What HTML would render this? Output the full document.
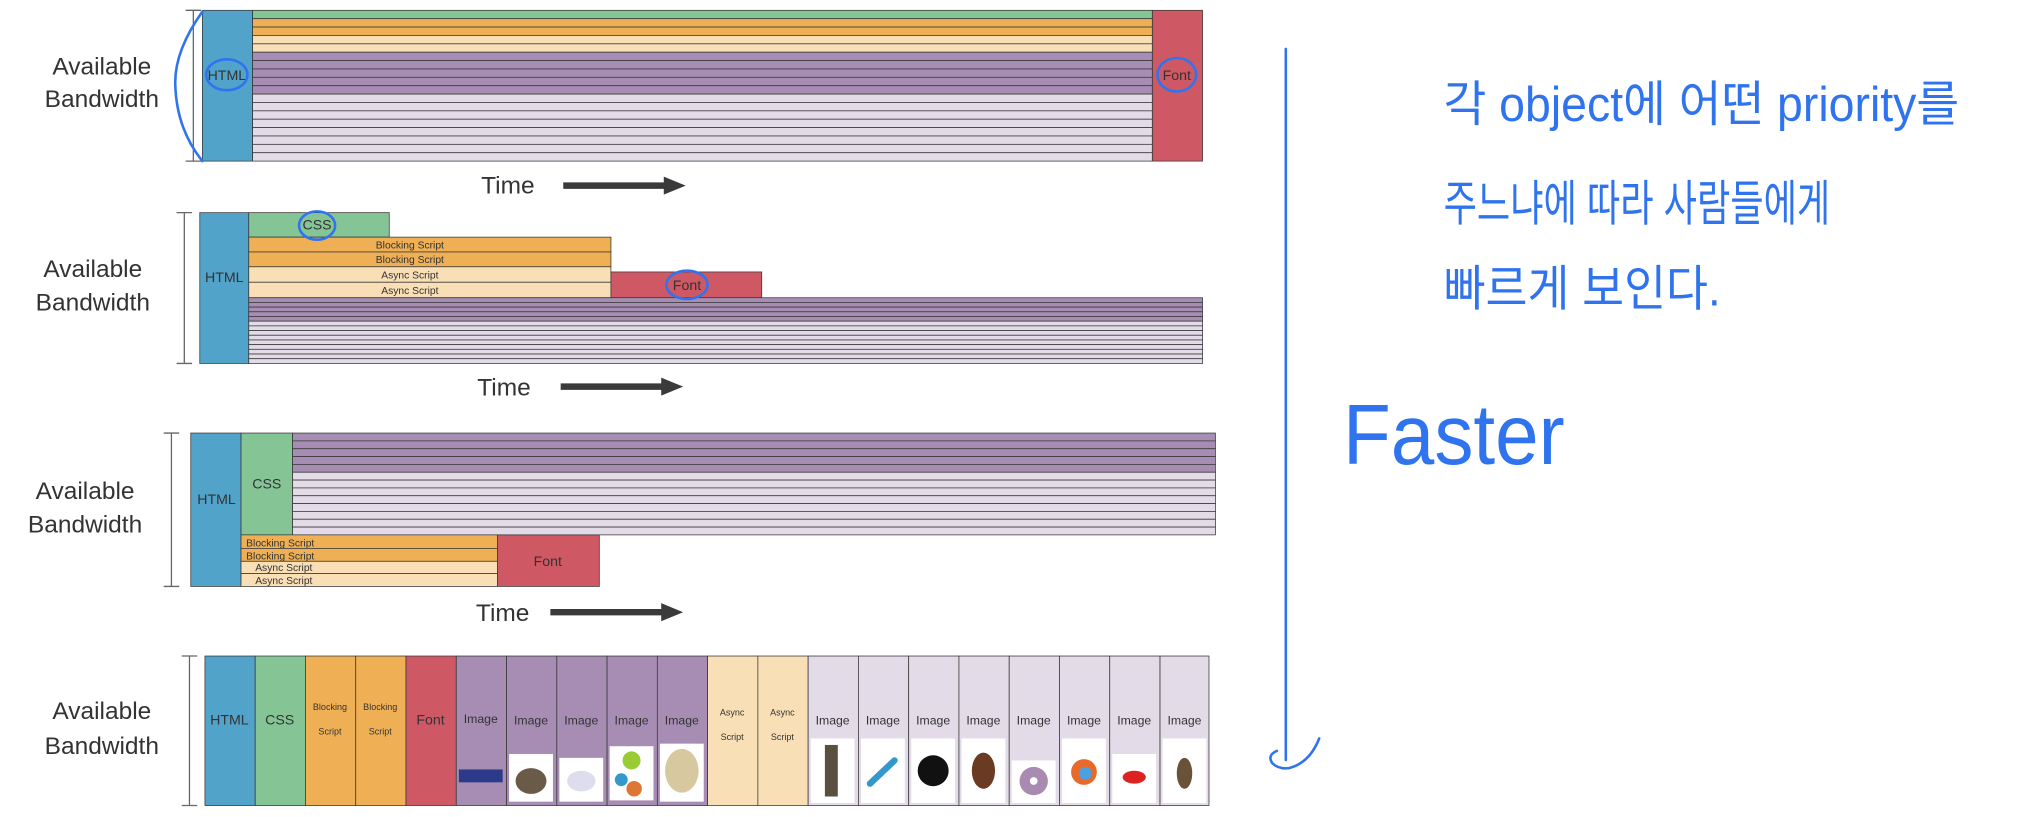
<!DOCTYPE html>
<html><head><meta charset="utf-8"><style>
html,body{margin:0;padding:0;background:#fff;width:2021px;height:817px;overflow:hidden}
svg{display:block}
text{font-family:"Liberation Sans","DejaVu Sans",sans-serif}
.hw{font-family:"Liberation Sans","Noto Sans CJK KR","NanumGothic",sans-serif;fill:#2f74ee}
</style></head><body>
<svg width="2021" height="817" viewBox="0 0 1568 633.9" preserveAspectRatio="none" xmlns="http://www.w3.org/2000/svg">
<defs>
<g id="d1rows"></g>
</defs>
<g stroke="#3a3a3a" stroke-width="0.6">
<!-- D1 -->
<rect x="157" y="8" width="39" height="117" fill="#52a3c9"/>
<rect x="894" y="8" width="39" height="117" fill="#cf5865"/>
<rect x="196" y="8" width="698" height="6.5" fill="#85c495"/>
<rect x="196" y="14.5" width="698" height="6.5" fill="#efb055"/>
<rect x="196" y="21" width="698" height="6.5" fill="#efb055"/>
<rect x="196" y="27.5" width="698" height="6.5" fill="#f9dfb5"/>
<rect x="196" y="34" width="698" height="6.5" fill="#f9dfb5"/>
<rect x="196" y="40.5" width="698" height="6.5" fill="#a78db4"/>
<rect x="196" y="47" width="698" height="6.5" fill="#a78db4"/>
<rect x="196" y="53.5" width="698" height="6.5" fill="#a78db4"/>
<rect x="196" y="60" width="698" height="6.5" fill="#a78db4"/>
<rect x="196" y="66.5" width="698" height="6.5" fill="#a78db4"/>
<rect x="196" y="73" width="698" height="6.5" fill="#e3dbe8"/>
<rect x="196" y="79.5" width="698" height="6.5" fill="#e3dbe8"/>
<rect x="196" y="86" width="698" height="6.5" fill="#e3dbe8"/>
<rect x="196" y="92.5" width="698" height="6.5" fill="#e3dbe8"/>
<rect x="196" y="99" width="698" height="6.5" fill="#e3dbe8"/>
<rect x="196" y="105.5" width="698" height="6.5" fill="#e3dbe8"/>
<rect x="196" y="112" width="698" height="6.5" fill="#e3dbe8"/>
<rect x="196" y="118.5" width="698" height="6.5" fill="#e3dbe8"/>
<!-- D2 -->
<rect x="155" y="165" width="38" height="117" fill="#52a3c9"/>
<rect x="193" y="165" width="109" height="19" fill="#85c495"/>
<rect x="193" y="184" width="281" height="11.5" fill="#efb055"/>
<rect x="193" y="195.5" width="281" height="11.5" fill="#efb055"/>
<rect x="193" y="207" width="281" height="12" fill="#f9dfb5"/>
<rect x="193" y="219" width="281" height="12" fill="#f9dfb5"/>
<rect x="474" y="211" width="117" height="20" fill="#cf5865"/>
<rect x="193" y="231" width="740" height="3.64" fill="#a78db4"/>
<rect x="193" y="234.64" width="740" height="3.64" fill="#a78db4"/>
<rect x="193" y="238.28" width="740" height="3.64" fill="#a78db4"/>
<rect x="193" y="241.92" width="740" height="3.64" fill="#a78db4"/>
<rect x="193" y="245.56" width="740" height="3.64" fill="#a78db4"/>
<rect x="193" y="249.2" width="740" height="3.64" fill="#e3dbe8"/>
<rect x="193" y="252.84" width="740" height="3.64" fill="#e3dbe8"/>
<rect x="193" y="256.48" width="740" height="3.64" fill="#e3dbe8"/>
<rect x="193" y="260.12" width="740" height="3.64" fill="#e3dbe8"/>
<rect x="193" y="263.76" width="740" height="3.64" fill="#e3dbe8"/>
<rect x="193" y="267.4" width="740" height="3.64" fill="#e3dbe8"/>
<rect x="193" y="271.04" width="740" height="3.64" fill="#e3dbe8"/>
<rect x="193" y="274.68" width="740" height="3.64" fill="#e3dbe8"/>
<rect x="193" y="278.32" width="740" height="3.68" fill="#e3dbe8"/>
<!-- D3 -->
<rect x="148" y="336" width="39" height="119" fill="#52a3c9"/>
<rect x="187" y="336" width="40" height="79" fill="#85c495"/>
<rect x="227" y="336" width="716" height="6.08" fill="#a78db4"/>
<rect x="227" y="342.08" width="716" height="6.08" fill="#a78db4"/>
<rect x="227" y="348.16" width="716" height="6.08" fill="#a78db4"/>
<rect x="227" y="354.24" width="716" height="6.08" fill="#a78db4"/>
<rect x="227" y="360.32" width="716" height="6.08" fill="#a78db4"/>
<rect x="227" y="366.4" width="716" height="6.08" fill="#e3dbe8"/>
<rect x="227" y="372.48" width="716" height="6.08" fill="#e3dbe8"/>
<rect x="227" y="378.56" width="716" height="6.08" fill="#e3dbe8"/>
<rect x="227" y="384.64" width="716" height="6.08" fill="#e3dbe8"/>
<rect x="227" y="390.72" width="716" height="6.08" fill="#e3dbe8"/>
<rect x="227" y="396.8" width="716" height="6.08" fill="#e3dbe8"/>
<rect x="227" y="402.88" width="716" height="6.08" fill="#e3dbe8"/>
<rect x="227" y="408.96" width="716" height="6.04" fill="#e3dbe8"/>
<rect x="187" y="415" width="199" height="10.5" fill="#efb055"/>
<rect x="187" y="425.5" width="199" height="10" fill="#efb055"/>
<rect x="187" y="435.5" width="199" height="9.5" fill="#f9dfb5"/>
<rect x="187" y="445" width="199" height="10" fill="#f9dfb5"/>
<rect x="386" y="415" width="79" height="40" fill="#cf5865"/>
<!-- D4 -->
<rect x="159" y="509" width="39" height="116" fill="#52a3c9"/>
<rect x="198" y="509" width="39" height="116" fill="#85c495"/>
<rect x="237" y="509" width="39" height="116" fill="#efb055"/>
<rect x="276" y="509" width="39" height="116" fill="#efb055"/>
<rect x="315" y="509" width="39" height="116" fill="#cf5865"/>
<rect x="354" y="509" width="39" height="116" fill="#a78db4"/>
<rect x="393" y="509" width="39" height="116" fill="#a78db4"/>
<rect x="432" y="509" width="39" height="116" fill="#a78db4"/>
<rect x="471" y="509" width="39" height="116" fill="#a78db4"/>
<rect x="510" y="509" width="39" height="116" fill="#a78db4"/>
<rect x="549" y="509" width="39" height="116" fill="#f9dfb5"/>
<rect x="588" y="509" width="39" height="116" fill="#f9dfb5"/>
<rect x="627" y="509" width="39" height="116" fill="#e3dbe8"/>
<rect x="666" y="509" width="39" height="116" fill="#e3dbe8"/>
<rect x="705" y="509" width="39" height="116" fill="#e3dbe8"/>
<rect x="744" y="509" width="39" height="116" fill="#e3dbe8"/>
<rect x="783" y="509" width="39" height="116" fill="#e3dbe8"/>
<rect x="822" y="509" width="39" height="116" fill="#e3dbe8"/>
<rect x="861" y="509" width="39" height="116" fill="#e3dbe8"/>
<rect x="900" y="509" width="38" height="116" fill="#e3dbe8"/>
</g>
<!-- thumbnails -->
<g stroke="none">
<rect x="356" y="597" width="34" height="10" fill="#2c3a8a"/>
<rect x="395" y="585" width="34" height="37" fill="#fff"/><ellipse cx="412" cy="606" rx="12" ry="10" fill="#6a5a48"/>
<rect x="434" y="588" width="34" height="34" fill="#fff"/><ellipse cx="451" cy="606" rx="11" ry="8" fill="#dde"/>
<rect x="473" y="579" width="34" height="42" fill="#fff"/><circle cx="490" cy="590" r="7" fill="#9c3"/><circle cx="482" cy="605" r="5" fill="#39c"/><circle cx="492" cy="612" r="6" fill="#d73"/>
<rect x="512" y="577" width="34" height="45" fill="#fff"/><ellipse cx="529" cy="598" rx="13" ry="17" fill="#d8c8a0"/>
<rect x="629" y="573" width="34" height="50" fill="#fff"/><rect x="640" y="578" width="10" height="40" fill="#5a5040"/>
<rect x="668" y="573" width="34" height="50" fill="#fff"/><path d="M675 608 L694 590" stroke="#39c" stroke-width="5" stroke-linecap="round"/>
<rect x="707" y="573" width="34" height="50" fill="#fff"/><circle cx="724" cy="598" r="12" fill="#111"/>
<rect x="746" y="573" width="34" height="50" fill="#fff"/><ellipse cx="763" cy="598" rx="9" ry="14" fill="#6b3a22"/>
<rect x="785" y="590" width="34" height="33" fill="#fff"/><circle cx="802" cy="606" r="11" fill="#a98ab0"/><circle cx="802" cy="606" r="3" fill="#fff"/>
<rect x="824" y="573" width="34" height="50" fill="#fff"/><circle cx="841" cy="599" r="10" fill="#e86a2a"/><circle cx="842" cy="600" r="5" fill="#4aa0e0"/>
<rect x="863" y="585" width="34" height="38" fill="#fff"/><ellipse cx="880" cy="603" rx="9" ry="5" fill="#d22"/>
<rect x="902" y="573" width="34" height="50" fill="#fff"/><ellipse cx="919" cy="600" rx="6" ry="12" fill="#6a5238"/>
</g>
<!-- brackets -->
<g stroke="#666" stroke-width="1" fill="none">
<path d="M150 8 V125 M144 8 H156 M144 125 H156"/>
<path d="M143 165 V282 M137 165 H149 M137 282 H149"/>
<path d="M133 336 V455 M127 336 H139 M127 455 H139"/>
<path d="M147 509 V625 M141 509 H153 M141 625 H153"/>
</g>
<!-- labels -->
<g font-size="19" fill="#333" text-anchor="middle">
<text x="79" y="58">Available</text><text x="79" y="83">Bandwidth</text>
<text x="72" y="215">Available</text><text x="72" y="241">Bandwidth</text>
<text x="66" y="387">Available</text><text x="66" y="413">Bandwidth</text>
<text x="79" y="558">Available</text><text x="79" y="585">Bandwidth</text>
<text x="394" y="150">Time</text>
<text x="391" y="307">Time</text>
<text x="390" y="482">Time</text>
</g>
<g fill="#3a3a3a">
<path d="M437 141.5 H515 V137 L532 144 L515 151 V146.5 H437 Z"/>
<path d="M435 297.5 H513 V293 L530 300 L513 307 V302.5 H435 Z"/>
<path d="M427 472.5 H513 V468 L530 475 L513 482 V477.5 H427 Z"/>
</g>
<g font-size="11" fill="#333" text-anchor="middle">
<text x="176" y="62">HTML</text>
<text x="913" y="62">Font</text>
<text x="174" y="219">HTML</text>
<text x="246" y="178">CSS</text>
<text x="533" y="225">Font</text>
<text x="168" y="391">HTML</text>
<text x="207" y="379">CSS</text>
<text x="425" y="439">Font</text>
<text x="178" y="562">HTML</text>
<text x="217" y="562">CSS</text>
<text x="334" y="562">Font</text>
</g>
<g font-size="8" fill="#333" text-anchor="middle">
<text x="318" y="193">Blocking Script</text>
<text x="318" y="204">Blocking Script</text>
<text x="318" y="216">Async Script</text>
<text x="318" y="228">Async Script</text>
</g>
<g font-size="8" fill="#333">
<text x="191" y="424">Blocking Script</text>
<text x="191" y="434">Blocking Script</text>
<text x="198" y="443">Async Script</text>
<text x="198" y="453">Async Script</text>
</g>
<g font-size="7" fill="#333" text-anchor="middle">
<text x="256" y="551">Blocking</text><text x="256" y="570">Script</text>
<text x="295" y="551">Blocking</text><text x="295" y="570">Script</text>
<text x="568" y="555">Async</text><text x="568" y="574">Script</text>
<text x="607" y="555">Async</text><text x="607" y="574">Script</text>
</g>
<g font-size="9.5" fill="#333" text-anchor="middle">
<text x="373" y="561">Image</text><text x="412" y="562">Image</text><text x="451" y="562">Image</text><text x="490" y="562">Image</text><text x="529" y="562">Image</text>
<text x="646" y="562">Image</text><text x="685" y="562">Image</text><text x="724" y="562">Image</text><text x="763" y="562">Image</text><text x="802" y="562">Image</text><text x="841" y="562">Image</text><text x="880" y="562">Image</text><text x="919" y="562">Image</text>
</g>
<!-- blue annotations -->
<g stroke="#2f74ee" stroke-width="2" fill="none" stroke-linecap="round">
<path d="M157 9 Q135 40 136 66 Q137 100 157 125"/>
<ellipse cx="176" cy="58" rx="16" ry="12"/>
<ellipse cx="913" cy="58" rx="15" ry="13"/>
<ellipse cx="246" cy="175" rx="14" ry="11"/>
<ellipse cx="533" cy="221" rx="16" ry="11"/>
<path d="M997.6 38 V589.6"/>
<path d="M990.7 582.6 Q983 586 987 592 Q992 597 1000 596 Q1016 592 1023.5 573"/>
</g>
<g class="hw">
<text x="1120" y="94" font-size="38" textLength="400" lengthAdjust="spacingAndGlyphs">각 object에  어떤 priority를</text>
<text x="1120" y="171" font-size="38" textLength="300" lengthAdjust="spacingAndGlyphs">주느냐에 따라 사람들에게</text>
<text x="1120" y="237" font-size="38" textLength="215" lengthAdjust="spacingAndGlyphs">빠르게 보인다.</text>
<text x="1042" y="360" font-size="66" textLength="172" lengthAdjust="spacingAndGlyphs" style="font-family:'Liberation Sans Narrow','Liberation Sans',sans-serif">Faster</text>
</g>
</svg>
</body></html>
